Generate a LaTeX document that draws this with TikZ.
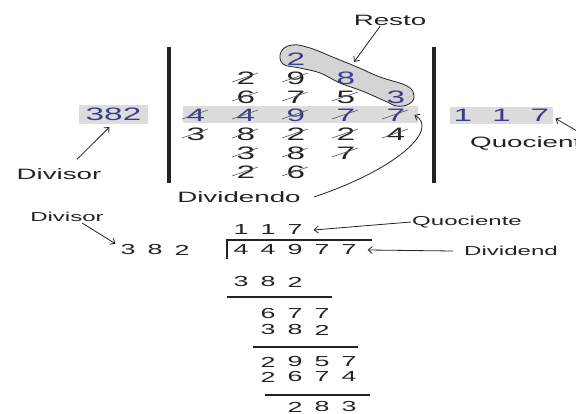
\documentclass[tikz,border=0pt]{standalone}
\usepackage{fontspec}
\setmainfont{Liberation Sans}[FakeStretch=1.85]
\usetikzlibrary{arrows.meta}
\definecolor{digblue}{RGB}{60,60,140}
\definecolor{band}{RGB}{220,220,220}
\definecolor{lasso}{RGB}{212,212,212}
\definecolor{ink}{RGB}{35,35,35}

\begin{document}
\begin{tikzpicture}[x=1pt, y=-1pt, >={Straight Barb[length=4pt,width=7pt]},
	every node/.style={inner sep=1pt, text=ink},
	big/.style={font=\fontsize{18}{18}\selectfont},
	small/.style={font=\fontsize{14.5}{14.5}\selectfont},
	lbl/.style={font=\fontsize{15}{15}\selectfont},
	slbl/.style={font=\fontsize{13}{13}\selectfont},
	hl/.style={text=digblue},
	strike/.style={draw=gray!70!black, line width=0.6pt},
	bar/.style={line width=4.5pt, ink},
	rule/.style={line width=1.3pt, ink},
	arr/.style={->, ink, line width=0.8pt}]
	\useasboundingbox (0,0) rectangle (576,414);
	\fill[band] (183,106) rectangle (418,123);
	\draw[ink, fill=lasso, line width=0.8pt] plot[smooth cycle, tension=0.7] coordinates {(281,52) (292,45) (310,48) (335,58) (357,67) (380,77) (407,86) (414,96) (409,104) (397,106) (385,101) (362,91) (340,83) (320,73) (300,68) (283,64)};
	\draw[bar] (169,47) -- (169,183);
	\draw[bar] (434,47) -- (434,183);
	\node[big,hl] (t13) at (296,59) {2};
	\foreach \d [count=\c from 2] in {2,9} \node[big] (t2\c) at ({146+50*\c},78) {\d};
	\node[big,hl] (t24) at (346,78) {8};
	\foreach \d [count=\c from 2] in {6,7,5} \node[big] (t3\c) at ({146+50*\c},97) {\d};
	\node[big,hl] (t35) at (396,97) {3};
	\foreach \d [count=\c] in {4,4,9,7,7} \node[big,hl] (t4\c) at ({146+50*\c},115) {\d};
	\foreach \d [count=\c] in {3,8,2,2,4} \node[big] (t5\c) at ({146+50*\c},134) {\d};
	\foreach \d [count=\c from 2] in {3,8,7} \node[big] (t6\c) at ({146+50*\c},153) {\d};
	\foreach \d [count=\c from 2] in {2,6} \node[big] (t7\c) at ({146+50*\c},172) {\d};
	\foreach \n in {t22,t23,t32,t33,t34,t41,t42,t43,t44,t45,t51,t52,t53,t54,t55,t62,t63,t64,t72,t73}
		\draw[strike] ([shift={(-14pt,-4pt)}]\n.center) -- ([shift={(12pt,5pt)}]\n.center);
	\node[big,hl, fill=band, inner xsep=6.5pt, inner ysep=3pt] (dvs) at (113.5,114.5) {382};
	\node[big,hl, fill=band, inner xsep=4pt, inner ysep=2pt] (quo) at (501.5,115.5) {1\hspace{20pt}1\hspace{20pt}7};
	\node[lbl] (resto) at (390,20) {Resto};
	\coordinate (rtip) at (354,62);
	\draw[arr] ([xshift=-10pt]resto.south) -- (rtip);
	\node[lbl] (divA) at (59,174) {Divisor};
	\draw[arr] ([shift={(18pt,8pt)}]divA.north) -- ([shift={(-4pt,-3pt)}]dvs.south);
	\node[lbl, anchor=west] (quoA) at (469,143) {Quociente};
	\draw[arr] ([xshift=-14pt]quoA.north east) -- ([shift={(2pt,-3pt)}]quo.east);
	\node[lbl] (dvdA) at (239,197) {Dividendo};
	\draw[arr] ([xshift=12pt]dvdA.east) .. controls (395,170) and (440,130) .. ([xshift=8pt]t45.east);
	\node[slbl] (divB) at (67,217) {Divisor};
	\foreach \d [count=\c] in {3,8,2} \node[small] (w\c) at ({101+27*\c},250) {\d};
	\draw[arr] ([xshift=15pt]divB.south) -- ([xshift=-4pt]w1.north west);
	\foreach \d [count=\c] in {1,1,7} \node[small] (q\c) at ({214+27*\c},230) {\d};
	\foreach \d [count=\c] in {4,4,9,7,7} \node[small] (v\c) at ({214+27*\c},250) {\d};
	\foreach \d [count=\c] in {3,8,2} \node[small] (m1\c) at ({214+27*\c},282) {\d};
	\foreach \d [count=\c from 2] in {6,7,7} \node[small] (r1\c) at ({214+27*\c},314) {\d};
	\foreach \d [count=\c from 2] in {3,8,2} \node[small] (m2\c) at ({214+27*\c},330) {\d};
	\foreach \d [count=\c from 2] in {2,9,5,7} \node[small] (r2\c) at ({214+27*\c},362) {\d};
	\foreach \d [count=\c from 2] in {2,6,7,4} \node[small] (m3\c) at ({214+27*\c},377) {\d};
	\foreach \d [count=\c from 3] in {2,8,3} \node[small] (r3\c) at ({214+27*\c},407) {\d};
	\draw[rule] (227,259) -- (227,240) -- (372,240);
	\draw[rule] (227,297) -- (332,297);
	\draw[rule] (253,347) -- (358,347);
	\draw[rule] (265,395) -- (370,395);
	\node[slbl, anchor=west] (quoB) at (411,222) {Quociente};
	\draw[arr] (quoB.west) -- ([xshift=10pt]q3.east);
	\begin{scope}
		\clip (0,0) rectangle (556,414);
		\node[slbl, anchor=west] (dvdB) at (463,251) {Dividendo};
	\end{scope}
	\draw[arr] ([xshift=-10pt]dvdB.west) -- ([xshift=10pt]v5.east);
\end{tikzpicture}
\end{document}
